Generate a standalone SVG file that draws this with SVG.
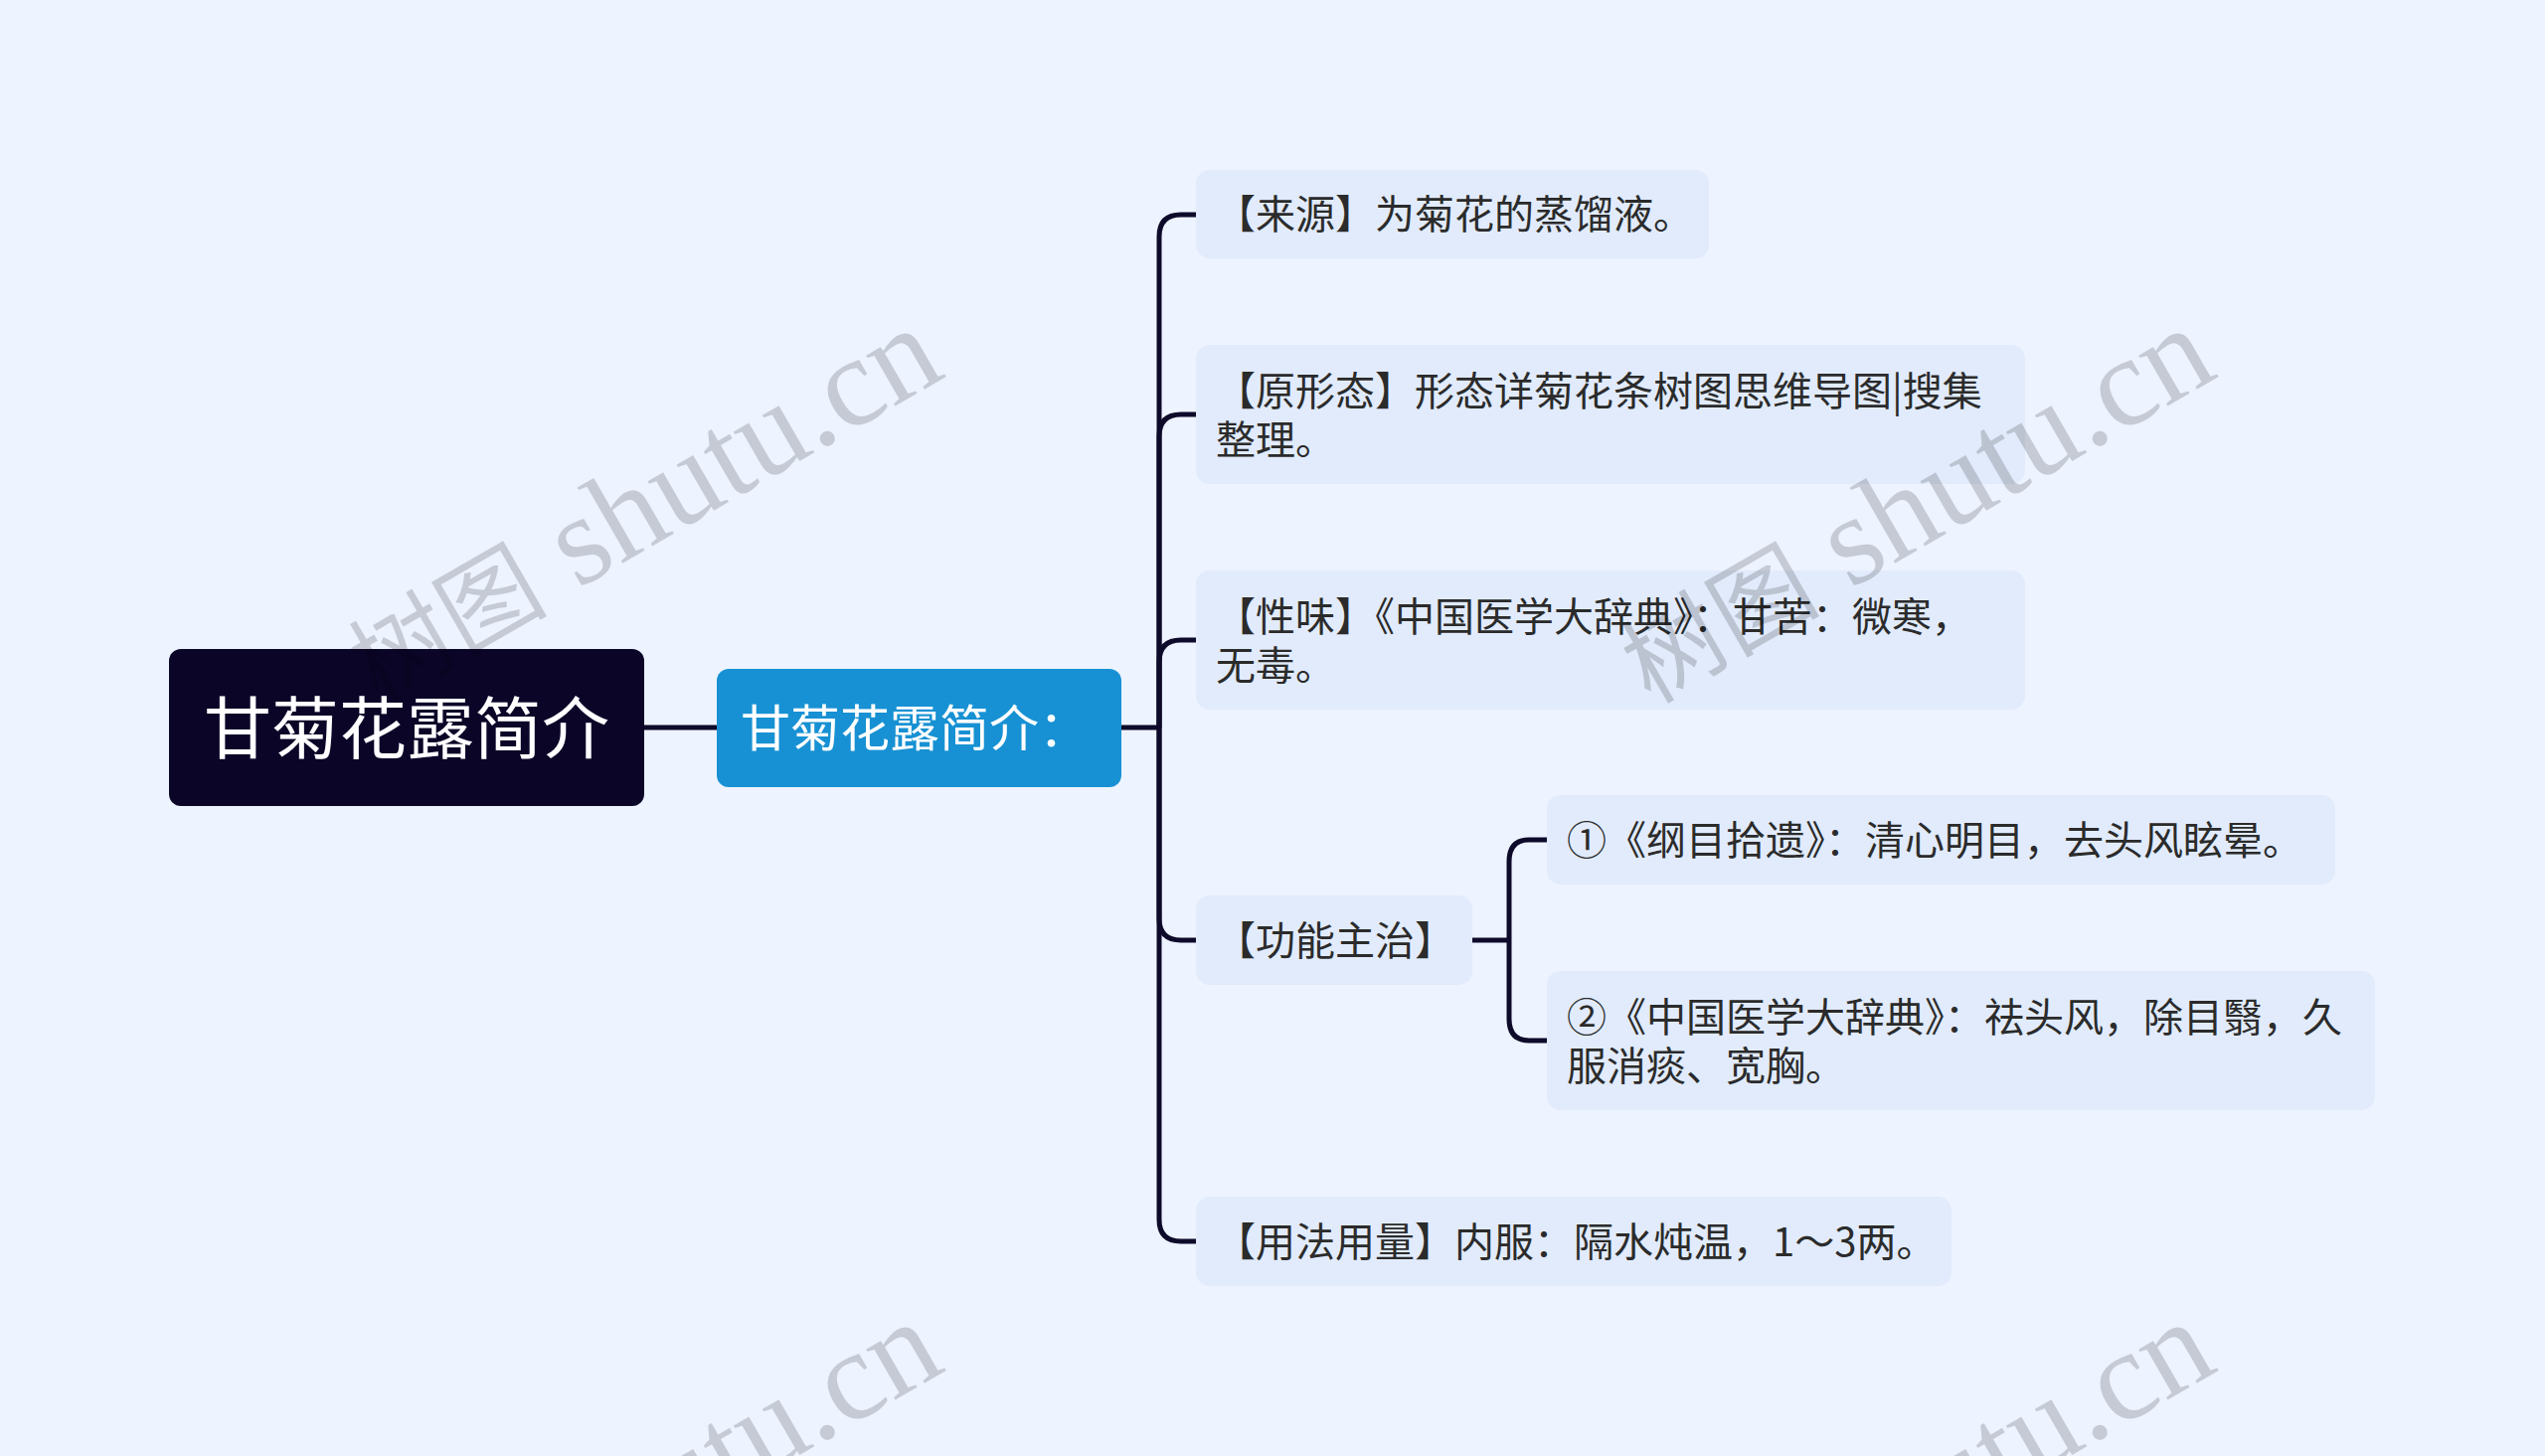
<svg xmlns="http://www.w3.org/2000/svg" width="2560" height="1465" viewBox="0 0 2560 1465">
<style>
.bg{fill:#EDF3FF}
.box{fill:#E1EBFC}
.t{font-family:"Noto Sans CJK SC","Noto Sans",sans-serif;font-size:40px;fill:#2b2b2b}
.conn{fill:none;stroke:#0E0A2A;stroke-width:5;stroke-linejoin:round}
.wm{font-family:"Liberation Serif","Noto Sans CJK SC",serif;font-size:128px;fill:#000;fill-opacity:0.17}
.wmc{font-size:100px}
</style>
<rect class="bg" x="0" y="0" width="2560" height="1465"/>
<g id="connectors">
<path class="conn" d="M648 732 H721"/>
<path class="conn" d="M1128 732 H1166"/>
<path class="conn" d="M1166 732 V238 Q1166 216 1188 216 H1203"/>
<path class="conn" d="M1166 732 V439 Q1166 417 1188 417 H1203"/>
<path class="conn" d="M1166 732 V666 Q1166 644 1188 644 H1203"/>
<path class="conn" d="M1166 732 V924 Q1166 946 1188 946 H1203"/>
<path class="conn" d="M1166 732 V1227 Q1166 1249 1188 1249 H1203"/>
<path class="conn" d="M1481 946 H1518"/>
<path class="conn" d="M1518 946 V867 Q1518 845 1538 845 H1556"/>
<path class="conn" d="M1518 946 V1025 Q1518 1047 1538 1047 H1556"/>
</g>
<g id="root">
<rect x="170" y="653" width="478" height="158" rx="12" fill="#0B0628"/>
<text x="409" y="758" text-anchor="middle" font-family="Noto Sans CJK SC, sans-serif" font-size="68" fill="#ffffff">甘菊花露简介</text>
</g>
<g id="main">
<rect x="721" y="673" width="407" height="119" rx="12" fill="#1791D3"/>
<text x="745" y="751" font-family="Noto Sans CJK SC, sans-serif" font-size="50" fill="#ffffff">甘菊花露简介：</text>
</g>
<g id="n1">
<rect class="box" x="1203" y="171" width="516" height="89" rx="14"/>
<text class="t" x="1223" y="230">【来源】为菊花的蒸馏液。</text>
</g>
<g id="n2">
<rect class="box" x="1203" y="347" width="834" height="140" rx="14"/>
<text class="t" x="1223" y="408">【原形态】形态详菊花条树图思维导图|搜集</text>
<text class="t" x="1223" y="457">整理。</text>
</g>
<g id="n3">
<rect class="box" x="1203" y="574" width="834" height="140" rx="14"/>
<text class="t" x="1223" y="635">【性味】《中国医学大辞典》：甘苦：微寒，</text>
<text class="t" x="1223" y="684">无毒。</text>
</g>
<g id="n4">
<rect class="box" x="1203" y="901" width="278" height="90" rx="14"/>
<text class="t" x="1223" y="961">【功能主治】</text>
</g>
<g id="n5">
<rect class="box" x="1556" y="800" width="793" height="90" rx="14"/>
<text class="t" x="1576" y="860">①《纲目拾遗》：清心明目，去头风眩晕。</text>
</g>
<g id="n6">
<rect class="box" x="1556" y="977" width="833" height="140" rx="14"/>
<text class="t" x="1576" y="1038">②《中国医学大辞典》：祛头风，除目翳，久</text>
<text class="t" x="1576" y="1087">服消痰、宽胸。</text>
</g>
<g id="n7">
<rect class="box" x="1203" y="1204" width="760" height="90" rx="14"/>
<text class="t" x="1223" y="1264">【用法用量】内服：隔水炖温，1～3两。</text>
</g>
<g id="watermarks">
<text class="wm" x="380" y="709" transform="rotate(-30 380 709)"><tspan class="wmc">树图</tspan> shutu.cn</text>
<text class="wm" x="1660" y="709" transform="rotate(-30 1660 709)"><tspan class="wmc">树图</tspan> shutu.cn</text>
<text class="wm" x="380" y="1709" transform="rotate(-30 380 1709)"><tspan class="wmc">树图</tspan> shutu.cn</text>
<text class="wm" x="1660" y="1709" transform="rotate(-30 1660 1709)"><tspan class="wmc">树图</tspan> shutu.cn</text>
</g>
</svg>
